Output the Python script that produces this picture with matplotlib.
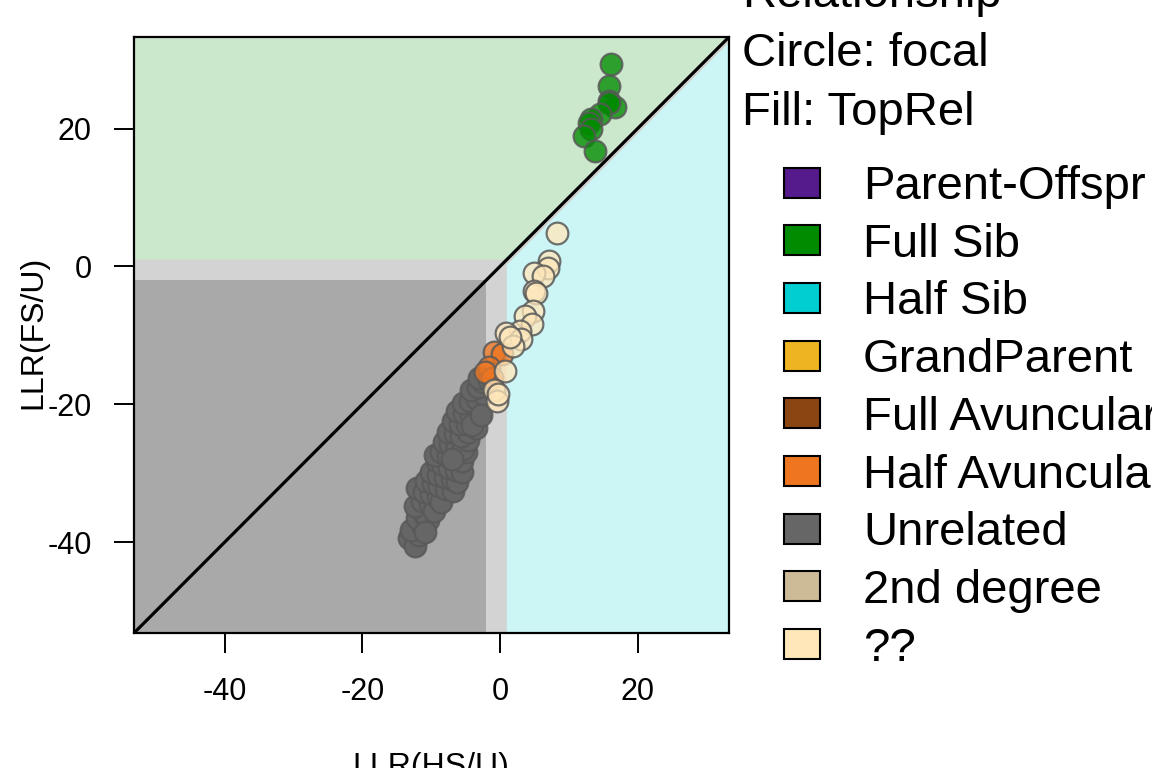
import matplotlib.pyplot as plt
from matplotlib.patches import Rectangle, Polygon

plt.rcParams["font.family"] = ["Liberation Sans", "DejaVu Sans"]
plt.rcParams["axes.unicode_minus"] = False

# axis limits (same for both axes, diagonal runs corner to corner)
LIM_LO, LIM_HI = -53.2, 33.3
TICKS = [-40, -20, 0, 20]

# thresholds of the background zones
THR_LO, THR_HI = -2, 1

# points: LLR(HS/U), LLR(FS/U)
unrel_x = [-13.2, -12.4, -11.8, -12.9, -11.2, -12.0, -11.0, -10.5, -12.3, -11.3,
           -10.2, -9.6, -12.0, -11.0, -10.0, -9.0, -8.5, -10.8, -9.8, -8.8,
           -7.8, -6.8, -10.0, -9.0, -8.0, -7.0, -6.2, -9.2, -8.3, -7.4,
           -6.4, -5.5, -9.5, -8.5, -7.5, -6.5, -5.5, -4.9, -8.2, -7.2,
           -6.3, -5.4, -4.6, -7.5, -6.5, -5.6, -4.6, -3.5, -6.8, -5.8,
           -4.8, -3.6, -6.2, -5.2, -4.2, -3.2, -5.3, -4.3, -3.3, -2.5,
           -4.2, -3.2, -2.4, -3.0, -1.6, -10.9, -7.0, -4.0, -2.8]
unrel_y = [-39.4, -40.6, -39.0, -38.2, -37.8, -36.5, -35.9, -36.8, -34.8, -34.0,
           -34.5, -35.5, -32.2, -32.8, -33.0, -33.4, -34.2, -31.2, -31.5, -31.8,
           -32.3, -32.6, -29.8, -30.2, -30.5, -30.8, -31.3, -28.3, -28.8, -29.2,
           -29.5, -29.8, -27.4, -27.0, -27.5, -27.8, -28.2, -27.0, -25.5, -25.8,
           -26.2, -26.5, -25.2, -24.0, -24.2, -24.6, -24.0, -23.5, -22.5, -22.8,
           -22.9, -22.0, -21.0, -21.3, -21.6, -20.8, -19.8, -19.6, -19.2, -18.5,
           -18.0, -17.5, -16.8, -16.2, -16.5, -38.5, -28.0, -23.0, -21.5]

halfav_x = [-0.9, 0.3, -1.6, -1.2, -2.2]
halfav_y = [-12.4, -12.7, -14.6, -16.2, -15.3]

unknown_x = [8.3, 7.1, 7.0, 5.0, 6.2, 4.9, 5.3, 4.8, 3.6, 4.6,
             2.9, 0.9, 3.1, 1.9, 1.5, 0.7, -0.8, -0.5, -0.3]
unknown_y = [4.9, 0.8, -0.2, -0.9, -1.4, -3.6, -3.8, -6.5, -7.2, -8.4,
             -9.4, -9.6, -10.6, -11.6, -10.2, -15.2, -17.9, -19.6, -18.5]

fullsib_x = [16.2, 15.9, 15.8, 16.7, 15.9, 14.5, 13.3, 13.0, 13.3, 12.2, 13.8]
fullsib_y = [29.4, 26.2, 24.0, 23.1, 23.7, 22.1, 21.4, 20.8, 19.9, 18.9, 16.8]

legend_labels = ["Parent-Offspr", "Full Sib", "Half Sib", "GrandParent",
                 "Full Avuncular", "Half Avuncular", "Unrelated", "2nd degree", "??"]
legend_colors = ["#551A8B", "#008B00", "#00CED1", "#EEB422",
                 "#8B4513", "#EE7621", "#666666", "#CDBA96", "#FFE7BA"]
title_lines = ["Relationship", "Circle: focal", "Fill: TopRel"]

W, H = 1152, 768


def fx(px):
    return px / W


def fy(py):
    return 1 - py / H


fig = plt.figure(figsize=(W / 100, H / 100), dpi=100)
ax = fig.add_axes([fx(134), fy(633), (729 - 134) / W, (633 - 37) / H])
ax.set_xlim(LIM_LO, LIM_HI)
ax.set_ylim(LIM_LO, LIM_HI)
ax.set_facecolor("#A9A9A9")

# background zones
lo, hi = LIM_LO, LIM_HI
d = 0.8
ax.add_patch(Polygon([(THR_LO, lo), (hi, lo), (hi, hi), (lo, hi), (lo, THR_LO), (THR_LO, THR_LO)],
                     closed=True, facecolor="#D3D3D3", edgecolor="none", zorder=0))
ax.add_patch(Polygon([(lo, THR_HI), (THR_HI, THR_HI), (hi, hi), (lo, hi)],
                     closed=True, facecolor="#CCE8CC", edgecolor="none", zorder=0.1))
ax.add_patch(Polygon([(THR_HI, lo), (hi, lo), (hi, hi - d), (THR_HI, THR_HI - d)],
                     closed=True, facecolor="#CCF5F6", edgecolor="none", zorder=0.1))

ax.plot([lo, hi], [lo, hi], color="black", lw=2.3, zorder=1)

pt = dict(s=245, linewidths=1.6, edgecolors=(0.35, 0.35, 0.35, 0.85), zorder=2)
ax.scatter(unrel_x, unrel_y, c="#666666", **pt)
ax.scatter(halfav_x, halfav_y, c=[(0.933, 0.463, 0.129, 0.78)], **pt)
ax.scatter(unknown_x, unknown_y, c=[(1.0, 0.906, 0.729, 0.75)], **pt)
ax.scatter(fullsib_x, fullsib_y, c=[(0.0, 0.545, 0.0, 0.78)], **pt)

ax.set_xticks(TICKS)
ax.set_yticks(TICKS)
ax.set_xticklabels([str(t) for t in TICKS])
ax.set_yticklabels([str(t) for t in TICKS])
ax.tick_params(axis="both", length=14.4, width=1.4, labelsize=22, color="black")
ax.tick_params(axis="x", pad=17)
ax.tick_params(axis="y", pad=16)
for sp in ax.spines.values():
    sp.set_linewidth(1.6)

fig.text(fx(33), fy(332), "LLR(FS/U)", rotation=90, fontsize=23,
         ha="center", va="center")
fig.text(fx(431), fy(775), "LLR(HS/U)", fontsize=23, ha="center", va="baseline")

# legend, drawn by hand at the right
for i, line in enumerate(title_lines):
    fig.text(fx(742), fy(7 + 59 * i), line, fontsize=34, ha="left", va="baseline")

for i, (lab, col) in enumerate(zip(legend_labels, legend_colors)):
    cy = 182.5 + 57.7 * i
    fig.patches.append(Rectangle((fx(784), fy(cy + 15)), 36 / W, 30 / H,
                                 transform=fig.transFigure, facecolor=col,
                                 edgecolor="black", linewidth=1.5))
    fig.text(fx(863), fy(cy + 16.5), lab, fontsize=34, ha="left", va="baseline")

fig.savefig("out.png", dpi=100)
